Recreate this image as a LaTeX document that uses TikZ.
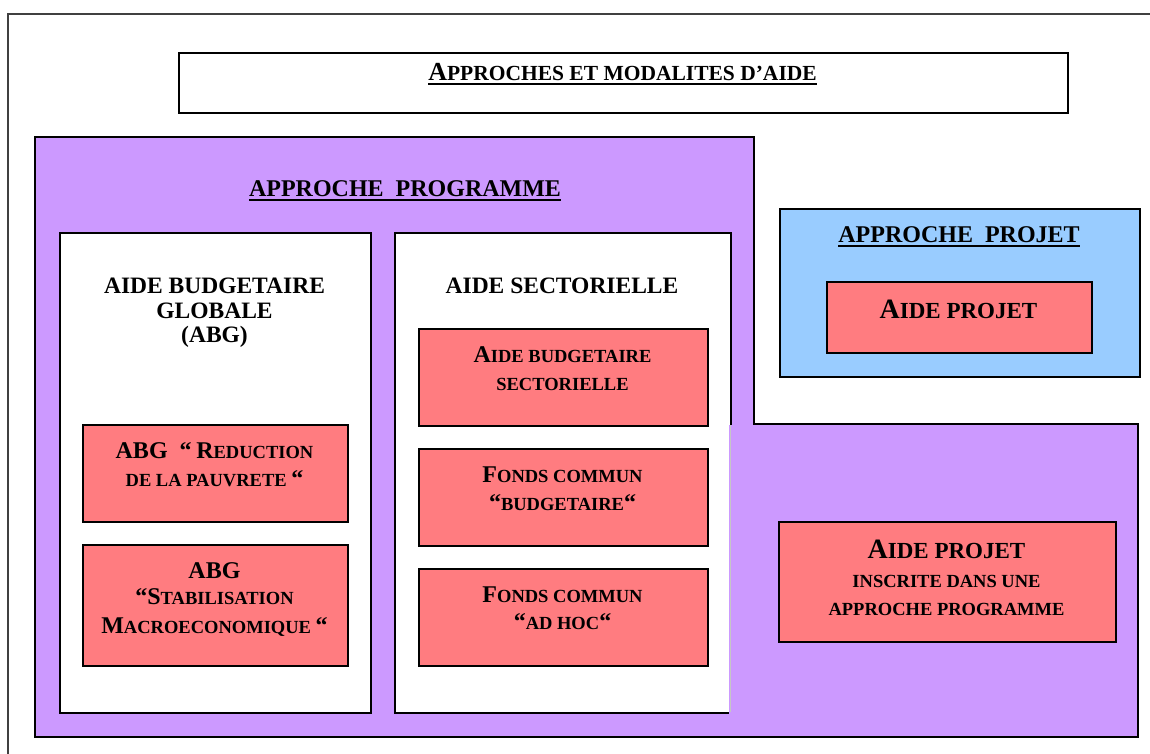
\documentclass[tikz,border=0pt]{standalone}
\usepackage{fontspec}
\setmainfont{Liberation Serif}
\definecolor{lilac}{HTML}{CC99FF}
\definecolor{sky}{HTML}{99CCFF}
\definecolor{salmon}{HTML}{FF7C80}
\definecolor{framegrey}{HTML}{404040}
\newcommand\sz[1]{\fontsize{#1}{#1}\selectfont}
\newcommand\Bg[1]{{\sz{24}#1}}
\begin{document}
\begin{tikzpicture}[x=1pt,y=-1pt,
  box/.style={draw=black, line width=2pt, inner sep=0pt, anchor=north west},
  whitebox/.style={box, fill=white},
  redbox/.style={box, fill=salmon},
  bluebox/.style={box, fill=sky},
  t/.style={inner sep=0pt, anchor=base, font=\bfseries\sz{18.5}},
  head/.style={t, font=\bfseries\sz{24}},
  ul/.style={line width=2.2pt}
]
\useasboundingbox (0,0) rectangle (1150,753);
\clip (0,0) rectangle (1150,753);
% outer frame (cut by the page)
\draw[framegrey, line width=2.5pt] (8,770) -- (8,14) -- (1170,14);

% title
\node[whitebox, minimum width=889pt, minimum height=60pt] (tbox) at (178,52) {};
\node[t, font=\bfseries\sz{21.5}] (title) at (622.5,80) {{\sz{26}A}PPROCHES ET MODALITES D’AIDE};
\draw[ul] ([yshift=-4pt]title.base west) -- ([yshift=-4pt]title.base east);

% programme L-shape
\draw[fill=lilac, line width=2pt] (35,137) -- (754,137) -- (754,424) -- (1138,424) -- (1138,737) -- (35,737) -- cycle;
\node[head] (prog) at (405,196) {APPROCHE\ \ PROGRAMME};
\draw[ul] ([yshift=-4pt]prog.base west) -- ([yshift=-4pt]prog.base east);

% white columns
\node[whitebox, minimum width=311pt, minimum height=480pt] (abg) at (59,232) {};
\node[whitebox, minimum width=336pt, minimum height=480pt] (sect) at (394,232) {};
\fill[lilac] (729,425.2) rectangle (1137,735.8);
\draw[gray!45, line width=0.6pt] (730,425) -- (730,712);

\node[head, font=\bfseries\sz{23.5}] (abgh1) at (214.5,293) {AIDE BUDGETAIRE};
\node[head, font=\bfseries\sz{23.5}] (abgh2) at (214.5,318) {GLOBALE};
\node[head, font=\bfseries\sz{23.5}] (abgh3) at (214.5,342) {(ABG)};
\node[head, font=\bfseries\sz{23.5}] (secth) at (562,293) {AIDE SECTORIELLE};

% ABG boxes
\node[redbox, minimum width=265pt, minimum height=97pt] (r1) at (82,424) {};
\node[t] (r1a) at (214.5,458) {\Bg{ABG\ \ “} \Bg{R}EDUCTION};
\node[t] (r1b) at (214.5,486) {DE LA PAUVRETE \Bg{“}};
\node[redbox, minimum width=265pt, minimum height=121pt] (r2) at (82,544) {};
\node[t] (r2a) at (214.5,578) {\Bg{ABG}};
\node[t] (r2b) at (214.5,604) {\Bg{“S}TABILISATION};
\node[t] (r2c) at (214.5,633) {\Bg{M}ACROECONOMIQUE \Bg{“}};

% sector boxes
\node[redbox, minimum width=289pt, minimum height=97pt] (s1) at (418,328) {};
\node[t] (s1a) at (562.5,362) {\Bg{A}IDE BUDGETAIRE};
\node[t] (s1b) at (562.5,390) {SECTORIELLE};
\node[redbox, minimum width=289pt, minimum height=97pt] (s2) at (418,448) {};
\node[t] (s2a) at (562.5,482) {\Bg{F}ONDS COMMUN};
\node[t] (s2b) at (562.5,510) {\Bg{“}BUDGETAIRE\Bg{“}};
\node[redbox, minimum width=289pt, minimum height=97pt] (s3) at (418,568) {};
\node[t] (s3a) at (562.5,602) {\Bg{F}ONDS COMMUN};
\node[t] (s3b) at (562.5,629) {\Bg{“}AD HOC\Bg{“}};

% projet
\node[bluebox, minimum width=360pt, minimum height=168pt] (proj) at (779,208) {};
\node[head] (projh) at (959,242) {APPROCHE\ \ PROJET};
\draw[ul] ([yshift=-4pt]projh.base west) -- ([yshift=-4pt]projh.base east);
\node[redbox, minimum width=265pt, minimum height=71pt] (ap1) at (826,281) {};
\node[t, font=\bfseries\sz{23}] (ap1t) at (958.5,318) {{\sz{28}A}IDE PROJET};

% aide projet in programme
\node[redbox, minimum width=337pt, minimum height=120pt] (ap2) at (778,521) {};
\node[t, font=\bfseries\sz{23}] (ap2a) at (946.5,558) {{\sz{28}A}IDE PROJET};
\node[t] (ap2b) at (946.5,587) {INSCRITE DANS UNE};
\node[t] (ap2c) at (946.5,615) {APPROCHE PROGRAMME};
\end{tikzpicture}
\end{document}
